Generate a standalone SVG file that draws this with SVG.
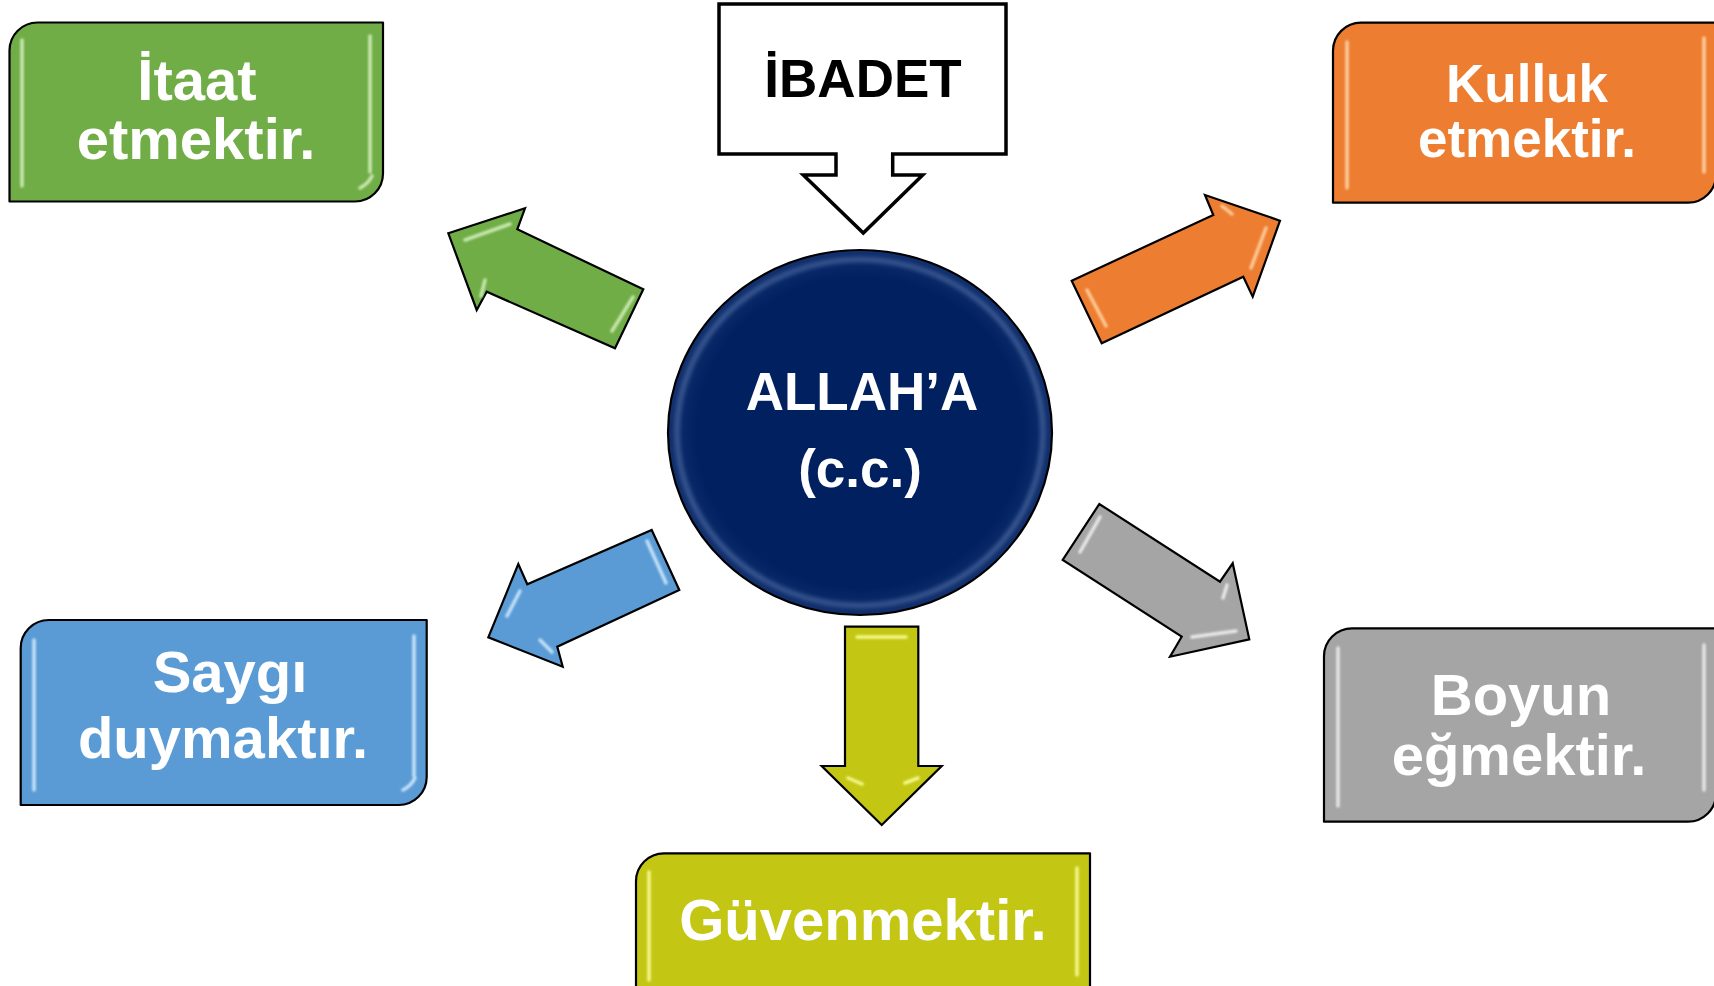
<svg xmlns="http://www.w3.org/2000/svg" width="1714" height="986" viewBox="0 0 1714 986">
<defs>
<style>
.box{stroke:#000;stroke-width:2.2;stroke-linejoin:round}
.arr{stroke:#000;stroke-width:2.2;stroke-linejoin:miter}
.lbl{font-family:"Liberation Sans",Arial,sans-serif;font-weight:bold;fill:#fff;text-anchor:middle}
.hl{fill:none;stroke-width:3.5;stroke-linecap:round;opacity:0.85;filter:url(#soft)}
</style>
<filter id="soft" x="-20%" y="-20%" width="140%" height="140%"><feGaussianBlur stdDeviation="1.2"/></filter>
<filter id="soft2" x="-20%" y="-20%" width="140%" height="140%"><feGaussianBlur stdDeviation="2.5"/></filter>
<radialGradient id="navy" cx="50%" cy="50%" r="50%">
<stop offset="0.85" stop-color="#002060"/>
<stop offset="1" stop-color="#12306e"/>
</radialGradient>
</defs>
<rect width="1714" height="986" fill="#fff"/>

<g id="connectors">
<g id="arrow-green">
<polygon class="arr" fill="#70AD47" points="448.3,233.3 525,208.3 517.3,229.3 643.3,289.3 615,348.3 486.7,291.7 476.7,310"/>
<path class="hl" stroke="#D8F2C0" d="M465,240 L510,224 M633,297 L612,331 M485,280 L481,296"/>
</g>
<g id="arrow-orange">
<polygon class="arr" fill="#ED7D31" points="1280,220.7 1205,195 1213.3,215 1071.7,280.7 1101.7,343.3 1243.3,276.7 1252.7,296.7"/>
<path class="hl" stroke="#FFD9A8" d="M1087,290 L1106,326 M1266,228 L1251,268 M1222,206 L1232,214"/>
</g>
<g id="arrow-blue">
<polygon class="arr" fill="#5B9BD5" points="488.3,637.3 518.3,564 527.3,584.3 651.7,530 679.3,590 557.3,646.7 562.7,666.7"/>
<path class="hl" stroke="#D5EEFF" d="M647,541 L666,583 M520,591 L507,616 M540,640 L552,652"/>
</g>
<g id="arrow-gray">
<polygon class="arr" fill="#A5A5A5" points="1099.3,504 1062.7,560 1181.7,636.7 1170,656.7 1249.3,639.3 1232.7,563.3 1220,581.7"/>
<path class="hl" stroke="#F4F4F4" d="M1100,517 L1080,552 M1192,637 L1236,631 M1227,585 L1223,598"/>
</g>
<g id="arrow-yellow">
<polygon class="arr" fill="#C3C714" points="845,626.7 918.3,626.7 918.3,766 941.7,766 881.7,825 821.7,766 845,766"/>
<path class="hl" stroke="#FFFF9E" d="M857,637 L906,637 M848,778 L862,784 M905,783 L918,778"/>
</g>
</g>

<g id="node-ibadet">
<path d="M719,4 L1006,4 L1006,154 L892.7,154 L892.7,175 L922.7,175 L863.3,233 L803.3,175 L836,175 L836,154 L719,154 Z" fill="#fff" stroke="#000" stroke-width="3.5" stroke-linejoin="miter"/>
<text x="863" y="97" class="lbl" style="fill:#000" font-size="53">İBADET</text>
</g>

<g id="node-allah">
<ellipse cx="860" cy="432.5" rx="192" ry="182.5" fill="url(#navy)" stroke="#000" stroke-width="2.2"/>
<ellipse cx="860" cy="432.5" rx="183" ry="173" fill="none" stroke="#9DB9E6" stroke-width="3" opacity="0.55" filter="url(#soft2)"/>
<text class="lbl" font-size="53"><tspan x="862" y="410">ALLAH’A</tspan><tspan x="860" y="487">(c.c.)</tspan></text>
</g>

<g id="node-itaat">
<path class="box" fill="#70AD47" d="M9.5,201.5 L9.5,50.5 A28,28 0 0 1 37.5,22.5 L383,22.5 L383,173.5 A28,28 0 0 1 355,201.5 Z"/>
<path class="hl" stroke="#DDF3C6" d="M22,40 L22,186 M370,36 L370,172 M360,188 Q368,184 372,176"/>
<text class="lbl" font-size="58"><tspan x="197" y="100">İtaat</tspan><tspan x="196" y="159">etmektir.</tspan></text>
</g>

<g id="node-kulluk">
<path class="box" fill="#ED7D31" d="M1333,202.7 L1333,50.7 A28,28 0 0 1 1361,22.7 L1716,22.7 L1716,174.7 A28,28 0 0 1 1688,202.7 Z"/>
<path class="hl" stroke="#FFDDB0" d="M1347,42 L1347,188 M1704,38 L1704,172"/>
<text class="lbl" font-size="53"><tspan x="1527" y="102">Kulluk</tspan><tspan x="1527" y="157">etmektir.</tspan></text>
</g>

<g id="node-saygi">
<path class="box" fill="#5B9BD5" d="M20.7,805 L20.7,648 A28,28 0 0 1 48.7,620 L426.7,620 L426.7,777 A28,28 0 0 1 398.7,805 Z"/>
<path class="hl" stroke="#D8F0FF" d="M34,640 L34,790 M414,636 L414,776 M403,790 Q411,786 415,778"/>
<text class="lbl" font-size="58"><tspan x="230" y="692">Saygı</tspan><tspan x="223" y="758">duymaktır.</tspan></text>
</g>

<g id="node-boyun">
<path class="box" fill="#A5A5A5" d="M1324,821.7 L1324,656.3 A28,28 0 0 1 1352,628.3 L1716,628.3 L1716,793.7 A28,28 0 0 1 1688,821.7 Z"/>
<path class="hl" stroke="#F2F2F2" d="M1338,648 L1338,806 M1704,645 L1704,790"/>
<text class="lbl" font-size="58"><tspan x="1521" y="715">Boyun</tspan><tspan x="1519" y="775">eğmektir.</tspan></text>
</g>

<g id="node-guven">
<path class="box" fill="#C3C714" d="M636,1000 L636,881.3 A28,28 0 0 1 664,853.3 L1090,853.3 L1090,1000 Z"/>
<path class="hl" stroke="#FFFFA0" d="M649,872 L649,980 M1077,868 L1077,975"/>
<text x="863" y="940" class="lbl" font-size="58">Güvenmektir.</text>
</g>
</svg>
